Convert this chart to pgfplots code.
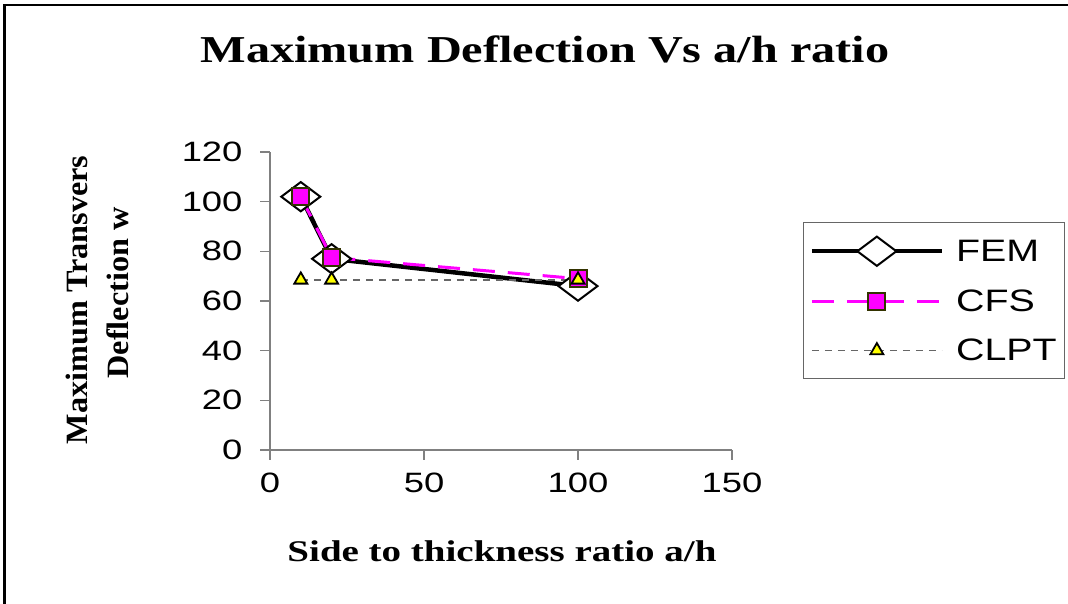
\documentclass[border=0pt]{standalone}
\usepackage{pgfplots}
\pgfplotsset{compat=1.18}
\usepackage{fontspec}
\setmainfont{Liberation Serif}
\newfontfamily\ticksfont[FakeStretch=1.3]{Liberation Sans}
\newfontfamily\legfont[FakeStretch=1.27]{Liberation Sans}
\newfontfamily\titlefont[FakeStretch=1.27]{Liberation Serif}
\newfontfamily\xlabfont[FakeStretch=1.3]{Liberation Serif}
\newfontfamily\ylabfont[FakeStretch=1.04]{Liberation Serif}
\definecolor{cfsmag}{HTML}{FF00FF}
\definecolor{olivedark}{HTML}{333300}
\definecolor{yel}{HTML}{FFFF00}
\begin{document}
\begin{tikzpicture}[x=1bp,y=1bp]
\useasboundingbox (0,0) rectangle (1068,604);
\draw[line width=2.5bp] (4.5,0) -- (4.5,599) -- (1068,599);
\node[anchor=base] at (545,541) {\titlefont\bfseries\fontsize{38bp}{44bp}\selectfont Maximum Deflection Vs a/h ratio};
\node[anchor=base] at (502,42) {\xlabfont\bfseries\fontsize{30bp}{34bp}\selectfont Side to thickness ratio a/h};
\node[anchor=base,rotate=90] at (87,304) {\ylabfont\bfseries\fontsize{31bp}{35bp}\selectfont Maximum Transvers};
\node[anchor=base,rotate=90] at (128,311) {\ylabfont\bfseries\fontsize{31bp}{35bp}\selectfont Deflection w};
\begin{axis}[
  at={(270bp,154bp)}, anchor=south west,
  scale only axis, width=462bp, height=298bp,
  xmin=0, xmax=150, ymin=0, ymax=120,
  axis lines*=left,
  axis line style={draw=black!50, line width=1.3bp},
  xtick={0,50,100,150}, ytick={0,20,40,60,80,100,120},
  tick align=outside, major tick length=10bp,
  tick style={draw=black!50, line width=1.3bp},
  tick label style={font=\ticksfont\fontsize{28bp}{32bp}\selectfont},
  yticklabel style={xshift=-14bp},
  xticklabel style={yshift=-9bp},
  /pgf/number format/assume math mode=true,
  clip=false,
  legend style={at={(axis description cs:1.1537,0.765)}, anchor=north west,
    draw=black!60, line width=1.2bp,
    font=\legfont\fontsize{31bp}{36bp}\selectfont,
    row sep=22bp, inner xsep=6bp, inner ysep=14bp,
    /tikz/every odd column/.append style={column sep=10bp}},
  legend cell align=left,
  legend image code/.code={\draw[mark repeat=2,mark phase=2,#1] plot coordinates {(0bp,0bp) (65bp,0bp) (130bp,0bp)};},
]
\addplot[black, line width=4.5bp, mark=diamond*, mark size=19.5bp,
  mark options={rotate=90, fill=white, draw=black, line width=2bp, solid}]
  coordinates {(10,102) (20,77) (100,66)};
\addlegendentry{FEM}
\addplot[cfsmag, line width=3bp, dash pattern=on 22bp off 13bp, mark=square*, mark size=8.5bp,
  mark options={fill=cfsmag, draw=olivedark, line width=2bp, solid}]
  coordinates {(10,102) (20,77.5) (100,69)};
\addlegendentry{CFS}
\addplot[black!60, line width=1.5bp, dash pattern=on 7bp off 6bp, mark=triangle*, mark size=7.5bp,
  mark options={fill=yel, draw=black, line width=1.8bp, solid}]
  coordinates {(10,68.5) (20,68.5) (100,68.5)};
\addlegendentry{CLPT}
\end{axis}
\end{tikzpicture}
\end{document}
